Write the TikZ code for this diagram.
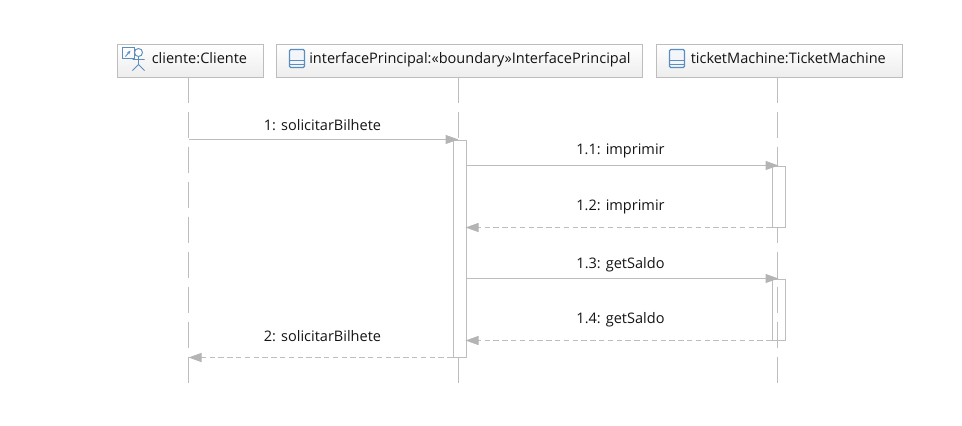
\documentclass[tikz,border=0pt]{standalone}
\usepackage{fontspec}
\setmainfont{Open Sans}
\usetikzlibrary{arrows.meta,calc}
\definecolor{ln}{HTML}{BDBDBD}
\definecolor{hd}{HTML}{B4B4B4}
\definecolor{ico}{HTML}{5B8DBF}
\newcommand{\lbl}{\fontsize{10.9pt}{12pt}\selectfont}
\tikzset{
  x=0.75pt,y=-0.75pt,
  head/.style={draw=ln,line width=0.95pt,top color=white,bottom color=black!7,minimum height=24.75pt,inner sep=0pt,anchor=north west},
  life/.style={draw=ln,line width=0.8pt,dash pattern=on 19.5pt off 6.75pt},
  activation/.style={draw=ln,line width=0.9pt,minimum width=9.75pt,inner sep=0pt,anchor=north west},
  sync/.style={draw=ln,line width=0.75pt,-{Triangle[length=9.75pt,width=6.75pt,fill=hd,color=hd]}},
  reply/.style={draw=ln,line width=0.75pt,dash pattern=on 4pt off 2.6pt,-{Triangle[length=9.75pt,width=6.75pt,fill=hd,color=hd]}},
  msg/.style={text=black!92,font=\lbl,inner sep=0pt},
  hlabel/.style={text=black!92,font=\lbl,inner sep=0pt,anchor=base west},
  icn/.style={draw=ico,line width=0.7pt},
}
\begin{document}
\begin{tikzpicture}
\useasboundingbox (0,0) rectangle (962,425);
\begin{scope}[shift={(0.5,0.5)}]
% heads
\node[head,minimum width=109.5pt] (hc) at (116,43) {};
\node[head,minimum width=274.5pt] (hi) at (275,43) {};
\node[head,minimum width=184.5pt] (ht) at (655,43) {};
\node[hlabel] (tc) at (151,63) {cliente:Cliente};
\node[hlabel] (ti) at (308.5,63) {interfacePrincipal:«boundary»InterfacePrincipal};
\node[hlabel] (tt) at (690,63) {ticketMachine:TicketMachine};
% lifeline ends
\coordinate (lc) at (188,76); \coordinate (lce) at (188,382);
\coordinate (li) at (458,76); \coordinate (lie) at (458,382);
\coordinate (lt) at (777,76); \coordinate (lte) at (777,382);
\draw[life] (lc) -- (lce);
\draw[life] (li) -- (lie);
\draw[life] (lt) -- (lte);
% activations
\node[activation,fill=white,minimum height=162.75pt] (a1) at (452,139) {};
\node[activation,fill=white,minimum height=45.75pt] (a2) at (771,165) {};
\node[activation,minimum height=45.75pt] (a3) at (771,278) {};
% message ends
\coordinate (m1s) at (188,139); \coordinate (m1e) at (458,139);
\coordinate (m2s) at (465,165); \coordinate (m2e) at (778,165);
\coordinate (m3s) at (771,227); \coordinate (m3e) at (465,227);
\coordinate (m4s) at (465,278); \coordinate (m4e) at (778,278);
\coordinate (m5s) at (771,340); \coordinate (m5e) at (465,340);
\coordinate (m6s) at (452,357); \coordinate (m6e) at (188,357);
\draw[sync] (m1s) -- (m1e);
\draw[sync] (m2s) -- (m2e);
\draw[reply] (m3s) -- (m3e);
\draw[sync] (m4s) -- (m4e);
\draw[reply] (m5s) -- (m5e);
\draw[reply] (m6s) -- (m6e);
% labels
\node[msg] (t1) at (322,124.5) {1: solicitarBilhete};
\node[msg] (t2) at (620,150) {1.1: imprimir};
\node[msg] (t3) at (620,206) {1.2: imprimir};
\node[msg] (t4) at (620,264) {1.3: getSaldo};
\node[msg] (t5) at (620,319) {1.4: getSaldo};
\node[msg] (t6) at (322,335.5) {2: solicitarBilhete};
% actor icon
\draw[icn] (122,47) rectangle (134,58);
\draw[icn,-{Stealth[length=3pt]}] (125,56) -- (130,50);
\draw[icn,fill=white] (138,52) circle (4);
\draw[icn] (138,56) -- (138,64) (132,59) -- (144,59) (138,64) -- (132,70) (138,64) -- (144,70);
% class icons
\foreach \x in {289,669} {
  \draw[icn,rounded corners=1pt,line width=0.9pt,fill=ico!8] (\x,49) rectangle (\x+15,67);
  \draw[icn] (\x,60) -- (\x+15,60) (\x,63.5) -- (\x+15,63.5);
}
\end{scope}
\end{tikzpicture}
\end{document}
